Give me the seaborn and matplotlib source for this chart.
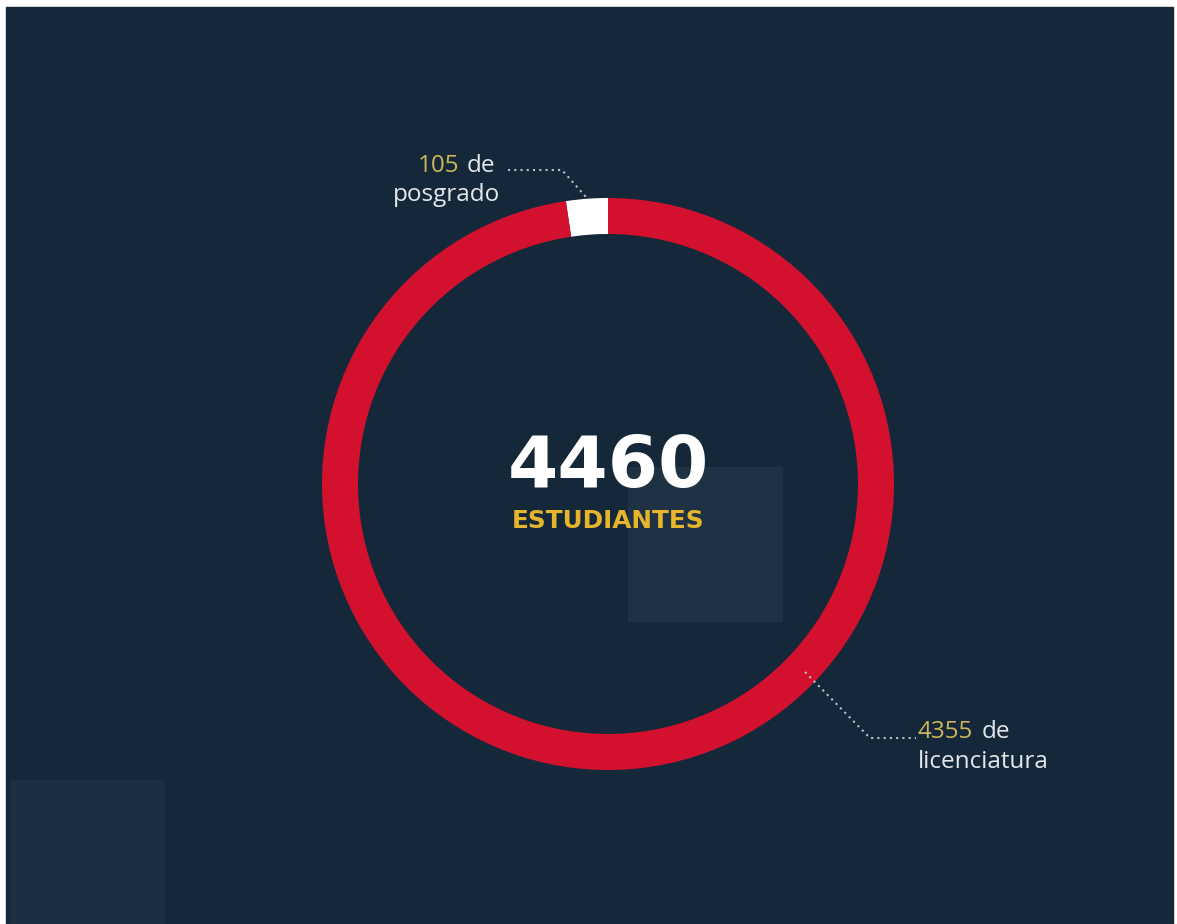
import matplotlib
matplotlib.use("Agg")
import matplotlib.pyplot as plt
from matplotlib.patches import Rectangle
import seaborn as sns

# data
labels = ['posgrado', 'licenciatura']
values = [105, 4355]
total = sum(values)
colors = ['#ffffff', '#d3112f']

BG = '#15283a'
GOLD = '#e6b52c'
GOLD_SOFT = '#cdb65a'
TXT = '#e4e8ec'

sns.set_theme(style='white')
plt.rcParams['font.family'] = ['Open Sans', 'DejaVu Sans']

fig = plt.figure(figsize=(11.77, 9.24), dpi=100, facecolor='white')
ax = fig.add_axes([0, 0, 1, 1])

# dark textured board
ax.add_patch(Rectangle((6, 7), 1167, 917, color=BG, zorder=0))
tiles = [(628, 467, 0.07), (10, 780, 0.05), (160, 310, 0.012), (790, 150, 0.01),
         (480, 620, 0.012), (940, 470, 0.01), (320, 780, 0.012), (160, 625, 0.01)]
for tx, ty, a in tiles:
    ax.add_patch(Rectangle((tx, ty), 155, 155, color='#9fb6c8', alpha=a, lw=0, zorder=0.5))

# ring (y axis inverted, so clockwise in data = counter-clockwise on screen)
ax.pie(values, colors=colors, center=(608, 484), radius=286,
       startangle=270, counterclock=False, frame=True,
       wedgeprops=dict(width=36, linewidth=0))
ax.set_xlim(0, 1177)
ax.set_ylim(924, 0)
ax.set_aspect('equal')
ax.axis('off')

# centre text
ax.text(608, 487, f'{total}', color='white', fontsize=52, fontweight='bold',
        family='DejaVu Sans', ha='center', va='baseline')
ax.text(608, 528, 'ESTUDIANTES', color=GOLD, fontsize=17.8, fontweight='bold',
        family='DejaVu Sans', ha='center', va='baseline')

# posgrado label
ax.text(418, 172, f'{values[0]}', color=GOLD_SOFT, fontsize=17.5, ha='left', va='baseline')
ax.text(467, 172, 'de', color=TXT, fontsize=17.5, ha='left', va='baseline')
ax.text(500, 201, labels[0], color=TXT, fontsize=17.5, ha='right', va='baseline')
ax.plot([508, 562, 586], [170, 170, 197], ls=(0, (1, 2)), color='#b8c4cc', lw=1.5)

# licenciatura label
ax.text(918, 738, f'{values[1]}', color=GOLD_SOFT, fontsize=17.5, ha='left', va='baseline')
ax.text(982, 738, 'de', color=TXT, fontsize=17.5, ha='left', va='baseline')
ax.text(918, 768, labels[1], color=TXT, fontsize=17.5, ha='left', va='baseline')
ax.plot([805, 870, 916], [672, 738, 738], ls=(0, (1, 2)), color='#b8c4cc', lw=1.5)

fig.savefig('out.png', dpi=100, facecolor='white')
